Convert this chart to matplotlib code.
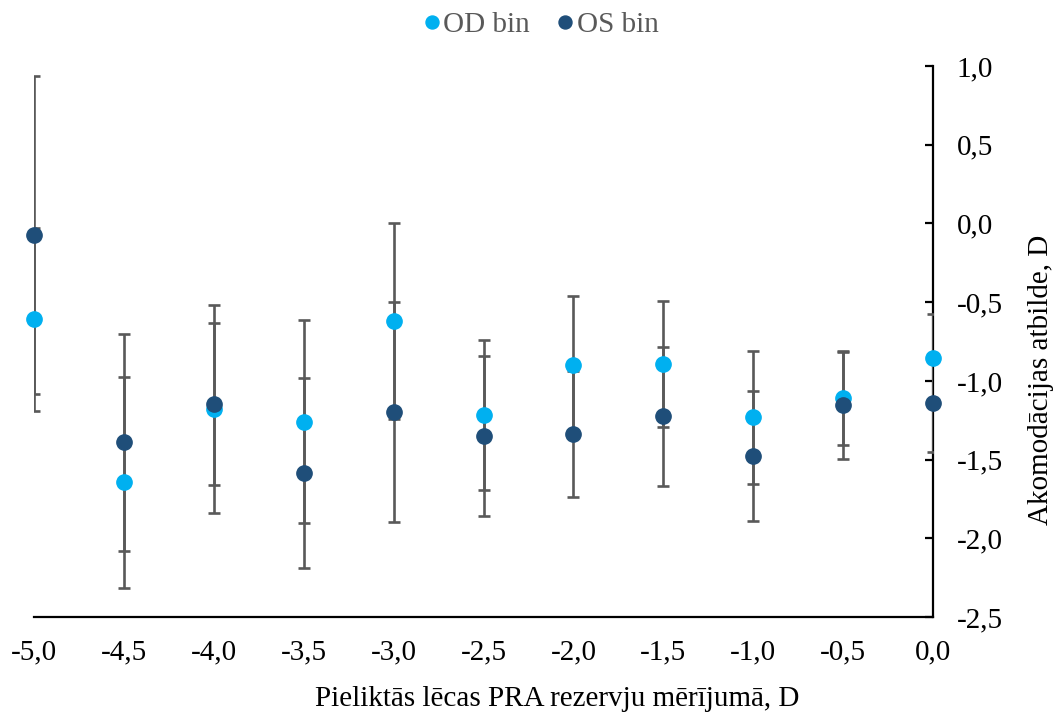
import matplotlib
matplotlib.use("Agg")
import matplotlib.pyplot as plt
from matplotlib.ticker import FuncFormatter

plt.rcParams['font.family'] = ['Liberation Serif', 'DejaVu Serif']

# data
lens = [-5.0, -4.5, -4.0, -3.5, -3.0, -2.5, -2.0, -1.5, -1.0, -0.5, 0.0]
od_mean = [-0.61, -1.645, -1.18, -1.26, -0.62, -1.217, -0.90, -0.89, -1.232, -1.11, -0.855]
od_err = [0.58, 0.67, 0.66, 0.645, 0.624, 0.474, 0.44, 0.40, 0.42, 0.30, 0.28]
os_mean = [-0.075, -1.39, -1.146, -1.586, -1.198, -1.353, -1.335, -1.225, -1.477, -1.155, -1.142]
os_err = [1.01, 0.69, 0.513, 0.604, 0.699, 0.508, 0.40, 0.44, 0.415, 0.34, 0.31]
y_ticks = [-2.5, -2.0, -1.5, -1.0, -0.5, 0.0, 0.5, 1.0]
x_ticks = [-5.0, -4.5, -4.0, -3.5, -3.0, -2.5, -2.0, -1.5, -1.0, -0.5, 0.0]

od_color = '#00B0F0'
os_color = '#1F4E79'
err_color = '#595959'

fig = plt.figure(figsize=(10.54, 7.15), dpi=100)
ax = fig.add_axes([0.0323, 0.137, 0.8529, 0.7707])

for mean, err in [(od_mean, od_err), (os_mean, os_err)]:
    ax.errorbar(lens, mean, yerr=err, fmt='none', ecolor=err_color,
                elinewidth=1.9, capsize=4.3, capthick=1.9, zorder=3)

ax.plot(lens, od_mean, 'o', color=od_color, markersize=11, zorder=5,
        clip_on=False, label='OD bin')
ax.plot(lens, os_mean, 'o', color=os_color, markersize=11, zorder=6,
        clip_on=False, label='OS bin')

ax.set_xlim(-5.0, 0.0)
ax.set_ylim(-2.5, 1.0)

comma = FuncFormatter(lambda v, p: ('%.1f' % v).replace('.', ','))
ax.set_xticks(x_ticks)
ax.set_yticks(y_ticks)
ax.xaxis.set_major_formatter(comma)
ax.yaxis.set_major_formatter(comma)

ax.spines['top'].set_visible(False)
ax.spines['left'].set_visible(False)
ax.spines['bottom'].set_linewidth(1.6)
ax.spines['right'].set_linewidth(1.6)

ax.yaxis.tick_right()
ax.yaxis.set_label_position('right')
ax.tick_params(axis='y', direction='in', length=6, width=1.6, pad=17,
               labelsize=21)
ax.tick_params(axis='x', length=0, pad=16, labelsize=21)

ax.set_xlabel('Pieliktās lēcas PRA rezervju mērījumā, D', fontsize=21,
              labelpad=15, x=0.582)
ax.set_ylabel('Akomodācijas atbilde, D', fontsize=21, labelpad=18, y=0.43)

leg = fig.legend(loc='upper center', bbox_to_anchor=(0.513, 1.02), ncol=2,
                 frameon=False, fontsize=21, handlelength=0.6,
                 handletextpad=0.1, columnspacing=0.9, markerscale=0.85)
for t in leg.get_texts():
    t.set_color(err_color)

fig.savefig('out.png', dpi=100)
